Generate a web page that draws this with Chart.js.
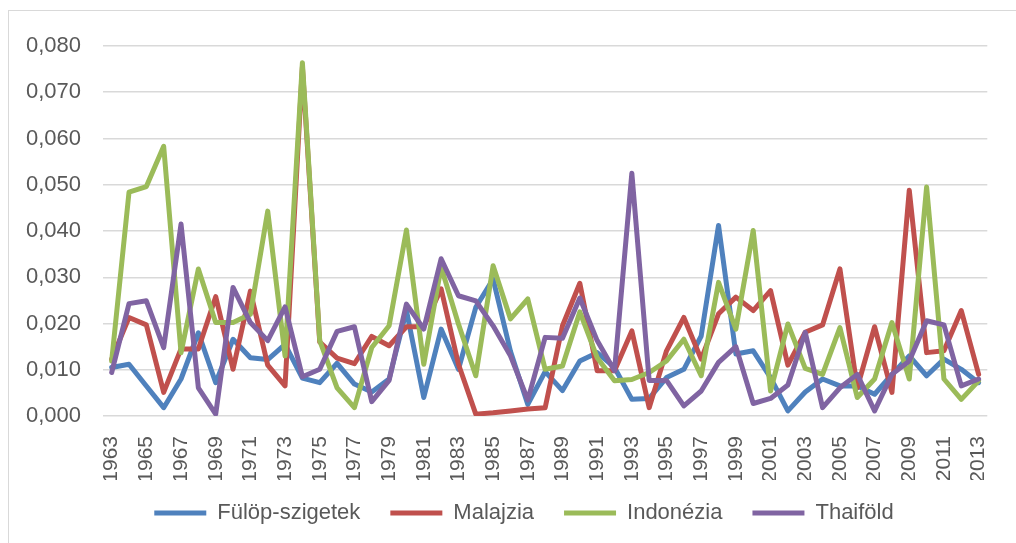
<!DOCTYPE html>
<html>
<head>
<meta charset="utf-8">
<script src="https://cdn.jsdelivr.net/npm/chart.js"></script>
<style>
    body { margin: 0; background: #fff; overflow: hidden; }
    #wrap { position: relative; width: 1016px; height: 543px; }
    #frame { position: absolute; left: 8px; top: 10px; width: 1100px; height: 600px; border: 1.5px solid #d9d9d9; }
    #chart { position: absolute; left: 0; top: 0; }
</style>
</head>
<body>
<div id="wrap">
    <div id="frame"></div>
    <canvas id="chart" width="1016" height="543"></canvas>
</div>
<script>
// years 1963 - 2013
const years = [];
for (let y = 1963; y <= 2013; y++) years.push(String(y));

const seriesNames = ['Fülöp-szigetek', 'Malajzia', 'Indonézia', 'Thaiföld'];
const seriesColors = ['#4f81bd', '#c0504d', '#9bbb59', '#8064a2'];

const fulop = [
    0.0105, 0.0112, 0.0065, 0.0018, 0.0080, 0.0180, 0.0072, 0.0166, 0.0126, 0.0122,
    0.0155, 0.0082, 0.0072, 0.0114, 0.0069, 0.0052, 0.0080, 0.0228, 0.0040, 0.0188,
    0.0101, 0.0235, 0.0296, 0.0140, 0.0025, 0.0096, 0.0055, 0.0119, 0.0137, 0.0105,
    0.0036, 0.0038, 0.0083, 0.0101, 0.0173, 0.0412, 0.0134, 0.0141, 0.0083, 0.0011,
    0.0052, 0.0080, 0.0065, 0.0065, 0.0047, 0.0090, 0.0130, 0.0087, 0.0123, 0.0101,
    0.0072
];
const malajzia = [
    0.0123, 0.0213, 0.0197, 0.0051, 0.0145, 0.0145, 0.0258, 0.0101, 0.0270, 0.0110,
    0.0065, 0.0755, 0.0160, 0.0125, 0.0113, 0.0172, 0.0152, 0.0193, 0.0193, 0.0275,
    0.0112, 0.0004, 0.0007, 0.0011, 0.0015, 0.0018, 0.0195, 0.0287, 0.0098, 0.0098,
    0.0184, 0.0018, 0.0141, 0.0213, 0.0123, 0.0221, 0.0257, 0.0228, 0.0271, 0.0110,
    0.0181, 0.0197, 0.0318, 0.0061, 0.0193, 0.0051, 0.0488, 0.0137, 0.0141, 0.0228,
    0.0090
];
const indonezia = [
    0.0119, 0.0484, 0.0496, 0.0583, 0.0137, 0.0318, 0.0202, 0.0202, 0.0220, 0.0443,
    0.0130, 0.0764, 0.0163, 0.0061, 0.0018, 0.0148, 0.0195, 0.0402, 0.0112, 0.0322,
    0.0199, 0.0087, 0.0325, 0.0210, 0.0253, 0.0101, 0.0108, 0.0225, 0.0126, 0.0076,
    0.0079, 0.0094, 0.0119, 0.0166, 0.0087, 0.0289, 0.0188, 0.0401, 0.0054, 0.0199,
    0.0103, 0.0090, 0.0191, 0.0040, 0.0080, 0.0202, 0.0080, 0.0495, 0.0080, 0.0036,
    0.0076
];
const thaifold = [
    0.0094, 0.0243, 0.0249, 0.0148, 0.0415, 0.0061, 0.0004, 0.0278, 0.0202, 0.0163,
    0.0236, 0.0085, 0.0101, 0.0183, 0.0193, 0.0031, 0.0077, 0.0242, 0.0188, 0.0340,
    0.0260, 0.0249, 0.0195, 0.0130, 0.0035, 0.0170, 0.0168, 0.0255, 0.0163, 0.0098,
    0.0525, 0.0077, 0.0077, 0.0022, 0.0054, 0.0116, 0.0150, 0.0027, 0.0038, 0.0067,
    0.0181, 0.0018, 0.0061, 0.0090, 0.0011, 0.0090, 0.0119, 0.0206, 0.0197, 0.0065,
    0.0080
];

const allData = [fulop, malajzia, indonezia, thaifold];

Chart.defaults.font.family = '"Liberation Sans", Arial, sans-serif';
Chart.defaults.color = '#595959';

// legend sits a bit right of centre and higher than chart.js puts it
const legendShift = {
    id: 'legendShift',
    afterLayout: (chart) => {
        chart.legend.left += 25;
        chart.legend.right += 25;
        chart.legend.top -= 8;
        chart.legend.bottom -= 8;
    }
};

new Chart(document.getElementById('chart').getContext('2d'), {
    type: 'line',
    plugins: [legendShift],
    data: {
        labels: years,
        datasets: allData.map((d, i) => ({
            label: seriesNames[i],
            data: d,
            borderColor: seriesColors[i],
            backgroundColor: seriesColors[i],
            borderWidth: 5,
            pointRadius: 0,
            tension: 0,
            borderJoinStyle: 'round',
            borderCapStyle: 'round',
            order: 4 - i          // last series on top, like excel
        }))
    },
    options: {
        responsive: false,
        animation: false,
        layout: {
            padding: { left: 0, right: 18, top: 46, bottom: 1 }
        },
        scales: {
            x: {
                offset: true,
                grid: { display: false },
                border: { display: false },
                ticks: {
                    autoSkip: false,
                    minRotation: 90,
                    maxRotation: 90,
                    padding: 12,
                    font: { size: 21 },
                    callback: (v, i) => (i % 2 === 0 ? years[i] : '')
                },
                afterFit: (s) => { s.height = 64; }
            },
            y: {
                min: 0,
                max: 0.08,
                border: { display: false },
                grid: { color: '#d9d9d9', lineWidth: 1.5, drawTicks: false },
                ticks: {
                    stepSize: 0.01,
                    padding: 22,
                    font: { size: 22 },
                    callback: (v) => v.toFixed(3).replace('.', ',')
                },
                afterFit: (s) => { s.width = 103; }
            }
        },
        plugins: {
            tooltip: { enabled: false },
            legend: {
                position: 'bottom',
                labels: {
                    boxWidth: 52,
                    boxHeight: 5,
                    padding: 30,
                    font: { size: 22 },
                    color: '#595959',
                    sort: (a, b) => a.datasetIndex - b.datasetIndex,
                    generateLabels: (chart) => {
                        const items = Chart.defaults.plugins.legend.labels.generateLabels(chart);
                        items.forEach(it => { it.lineWidth = 0; });
                        return items;
                    }
                }
            }
        }
    }
});
</script>
</body>
</html>
